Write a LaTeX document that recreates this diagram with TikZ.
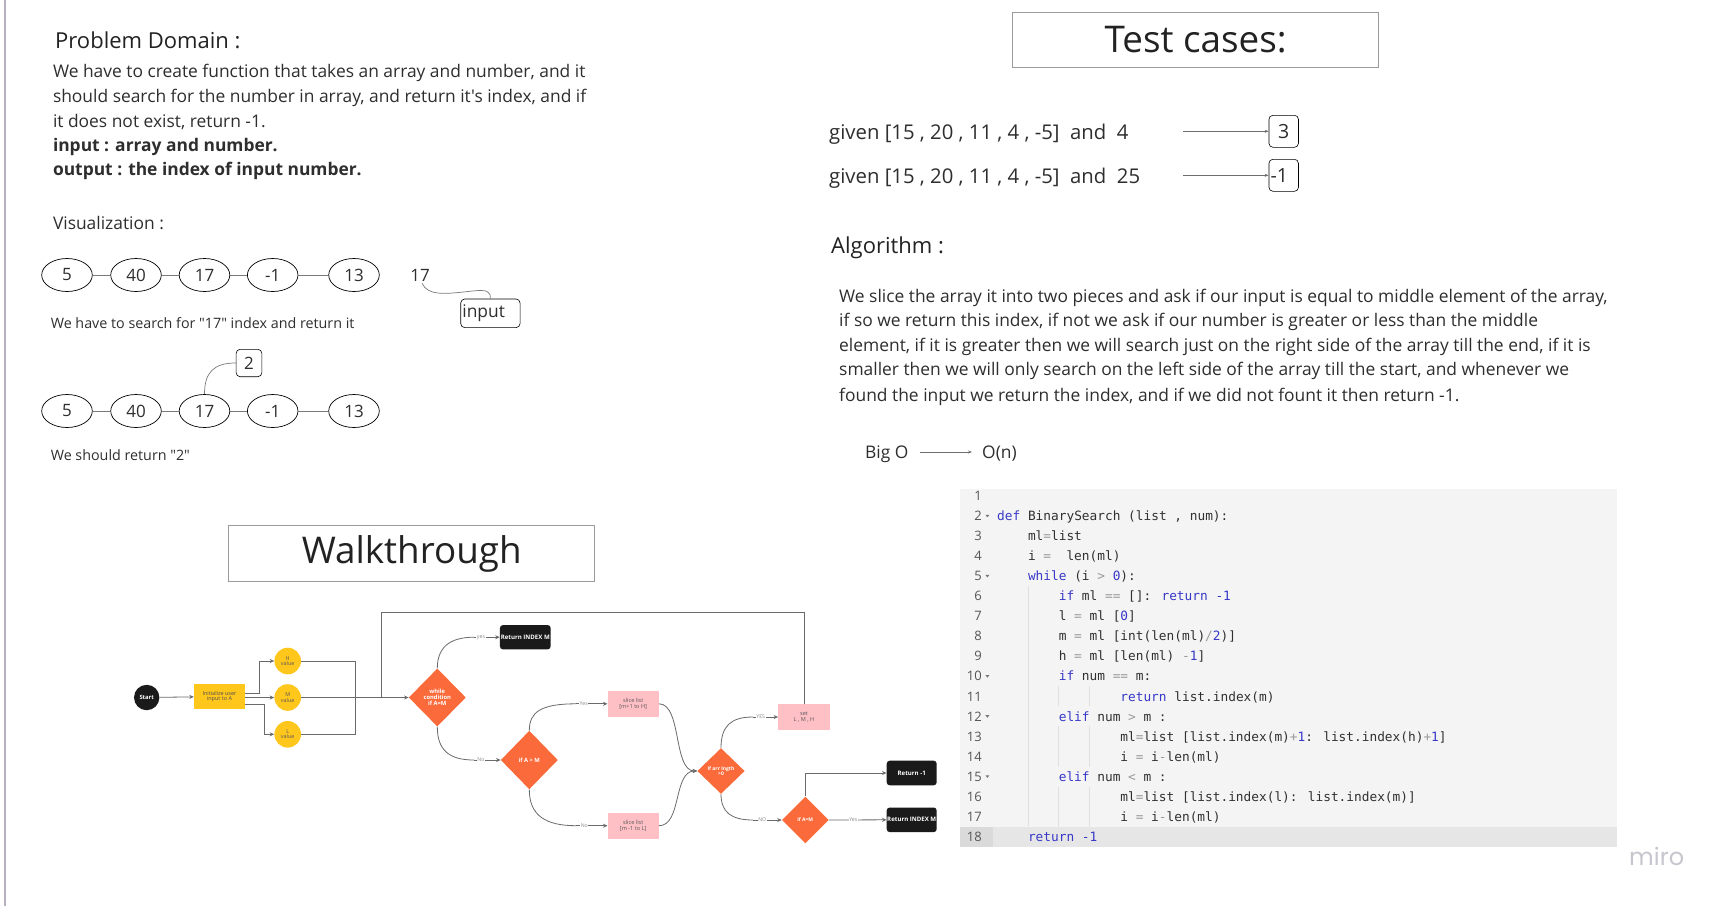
\documentclass[tikz,border=0pt]{standalone}
\usepackage{fontspec}
\setmainfont{Open Sans}[Ligatures=TeXOff]
\newfontfamily\codefont{DejaVu Sans Mono}
\newfontfamily\mirofont{Poppins}
\usetikzlibrary{shapes.geometric,arrows.meta}

\definecolor{ink}{HTML}{2E2E2E}
\definecolor{headink}{HTML}{222222}
\definecolor{vgray}{HTML}{7A7A7A}
\definecolor{boxgray}{HTML}{9A9A9A}
\definecolor{agray}{HTML}{6E6E6E}
\definecolor{fgray}{HTML}{6A6A6A}
\definecolor{lgray}{HTML}{8A8A8A}
\definecolor{orng}{HTML}{FB6A3A}
\definecolor{yel}{HTML}{FFC61C}
\definecolor{pinkbox}{HTML}{FFC0C5}
\definecolor{blk}{HTML}{1A1A1A}
\definecolor{codebg}{HTML}{F4F4F4}
\definecolor{rowhl}{HTML}{E6E6E6}
\definecolor{gutterhl}{HTML}{DADADA}
\definecolor{guide}{HTML}{E0E0E0}
\definecolor{codeink}{HTML}{303030}
\definecolor{kwblue}{HTML}{3838C8}
\definecolor{opgray}{HTML}{9A9A9A}
\definecolor{lnink}{HTML}{555555}
\definecolor{mirogray}{HTML}{C6C6CE}
\definecolor{edge}{HTML}{B8B0C0}

\newcommand\fsz[1]{\fontsize{#1}{#1}\selectfont}
\newcommand\kw[1]{\textcolor{kwblue}{#1}}
\newcommand\nm[1]{\textcolor{kwblue}{#1}}
\newcommand\op[1]{\textcolor{opgray}{#1}}

\begin{document}
\begin{tikzpicture}[x=1pt,y=-1pt,
  txt/.style={inner sep=0pt, anchor=base west, text=ink},
  body/.style={txt, font=\fsz{17.4}},
  oval/.style={ellipse, draw=black, line width=0.7pt, minimum width=50.6pt, minimum height=33pt, inner sep=0pt, font=\fsz{17}, text=ink},
  vizline/.style={draw=vgray, line width=1pt},
  rbox/.style={draw=black, line width=0.6pt, rounded corners=4pt, inner sep=1pt, text=ink},
  titlebox/.style={draw=boxgray, line width=1pt, inner sep=0pt, font=\fsz{36.8}, text=headink},
  thinarrow/.style={draw=agray, line width=0.6pt, -{Stealth[length=4pt,width=3pt]}},
  flow/.style={draw=fgray, line width=0.8pt, -{Stealth[length=4.5pt,width=4pt]}},
  flowline/.style={draw=fgray, line width=0.8pt},
  lbl/.style={fill=white, inner sep=0.6pt, font=\fsz{5.2}, text=lgray},
  decision/.style={diamond, fill=orng, inner sep=0pt, text=white, align=center, font=\bfseries\fsz{5.8}},
  valcircle/.style={circle, fill=yel, inner sep=0pt, minimum size=26.6pt, align=center, font=\fsz{5.4}, text=ink!80},
  pinkrect/.style={rectangle, fill=pinkbox, inner sep=0pt, minimum width=51pt, minimum height=25.7pt, align=center, font=\fsz{5.6}, text=ink!80},
  blackrect/.style={rectangle, rounded corners=3pt, fill=blk, inner sep=0pt, minimum width=50pt, minimum height=24.6pt, align=center, font=\bfseries\fsz{6.1}, text=white},
  code/.style={inner sep=0pt, anchor=base west, font=\codefont\fsz{12.8}, text=codeink},
  lnum/.style={inner sep=0pt, anchor=base east, font=\fsz{13}, text=lnink}
]
\useasboundingbox (0,0) rectangle (1724,906);
\fill[white] (0,0) rectangle (1724,906);
\draw[edge, line width=2pt] (5,0) -- (5,906);

% ---------- problem domain ----------
\node[txt, font=\fsz{22}, text=headink] (pdh) at (55,48) {Problem Domain :};
\node[body] (pd1) at (52.8,77) {We have to create function that takes an array and number, and it};
\node[body] (pd2) at (52.8,102.3) {should search for the number in array, and return it's index, and if};
\node[body] (pd3) at (52.8,127.6) {it does not exist, return -1.};
\node[body, font=\bfseries\fsz{17.4}] (pd4) at (52.8,151.6) {input : array and number.};
\node[body, font=\bfseries\fsz{17.4}] (pd5) at (52.8,175.9) {output : the index of input number.};

% ---------- visualization ----------
\node[body] (vish) at (52.8,229.5) {Visualization :};
\node[oval] (v11) at (67,275) {5};
\node[oval] (v12) at (136,275) {40};
\node[oval] (v13) at (204.5,275) {17};
\node[oval] (v14) at (272.7,275) {-1};
\node[oval] (v15) at (354,275) {13};
\draw[vizline] (v11) -- (v12);
\draw[vizline] (v12) -- (v13);
\draw[vizline] (v13) -- (v14);
\draw[vizline] (v14) -- (v15);

\node[inner sep=0pt, font=\fsz{17}, text=ink] (in17) at (420,275) {17};
\node[rbox, minimum width=59.3pt, minimum height=28.6pt, text width=56pt, align=left, font=\fsz{17.4}] (inp) at (490.4,313.3) {input};
\draw[vizline, line width=0.7pt] ([xshift=2pt,yshift=-2pt]in17.south) .. controls (428,296) and (445,294) .. (468,291.5) .. controls (488,289) and (490.4,291) .. (inp.north);

\node[txt, font=\fsz{14.3}] (cap1) at (50.6,328.5) {We have to search for "17" index and return it};

\node[rbox, minimum width=25.7pt, minimum height=27.4pt, font=\fsz{17}] (b2) at (249,363) {2};
\node[oval] (v21) at (67,411) {5};
\node[oval] (v22) at (136,411) {40};
\node[oval] (v23) at (204.5,411) {17};
\node[oval] (v24) at (272.7,411) {-1};
\node[oval] (v25) at (354,411) {13};
\draw[vizline] (v21) -- (v22);
\draw[vizline] (v22) -- (v23);
\draw[vizline] (v23) -- (v24);
\draw[vizline] (v24) -- (v25);
\draw[vizline, line width=0.7pt] (v23.north) .. controls (204.5,372) and (214,363) .. (b2.west);

\node[txt, font=\fsz{14.3}] (cap2) at (50.6,460.5) {We should return "2"};

% ---------- walkthrough ----------
\node[titlebox, minimum width=366pt, minimum height=56pt] (walk) at (411.7,553.6) {Walkthrough};

\node[circle, fill=blk, minimum size=25.4pt, inner sep=0pt, font=\bfseries\fsz{5.8}, text=white] (start) at (146.7,697.5) {Start};
\node[rectangle, fill=yel, minimum width=51pt, minimum height=25.7pt, inner sep=0pt, align=center, font=\fsz{5.5}, text=ink!85] (init) at (219.5,696.5) {Initialize user\\input to A};
\node[valcircle] (hv) at (287.7,661) {H\\value};
\node[valcircle] (mv) at (287.7,697.5) {M\\value};
\node[valcircle] (lv) at (287.7,734.3) {L\\value};
\node[decision, minimum width=57pt, minimum height=58pt] (w1) at (437.3,697.5) {while\\condition\\if A=M};
\node[blackrect, minimum width=50.7pt, minimum height=24.3pt] (rim1) at (525.3,637.2) {Return INDEX M};
\node[decision, minimum width=57pt, minimum height=58.6pt] (am) at (529.3,760) {if A \textgreater{} M};
\node[pinkrect] (sl1) at (633.2,703.8) {slice list\\{[m+1 to H]}};
\node[pinkrect] (sl2) at (633.2,825.7) {slice list\\{[m -1 to L]}};
\node[decision, minimum width=47.3pt, minimum height=45.7pt, font=\bfseries\fsz{5}] (d3) at (721,771) {If arr lngth\\\textgreater0};
\node[pinkrect, minimum width=51.4pt, minimum height=25.4pt] (st) at (804,717) {set\\L , M , H};
\node[decision, minimum width=46.7pt, minimum height=46.7pt, font=\bfseries\fsz{5}] (d4) at (805.3,820) {if A=M};
\node[blackrect] (ret1) at (911.7,773) {Return -1};
\node[blackrect] (ret2) at (911.7,819.8) {Return INDEX M};

\coordinate (join) at (355,697.5);
\coordinate (merge) at (381.7,697.5);
\coordinate (looptop) at (381.7,612);

\draw[flow] (start) -- (init);
\draw[flow] ([yshift=3.5pt]init.east) -- ++(14.3,0) |- (hv.west);
\draw[flow] ([yshift=-1pt]init.east) -- (mv.west);
\draw[flow] ([yshift=-7.5pt]init.east) -- ++(19,0) |- (lv.west);
\draw[flowline] (hv.east) -| (join);
\draw[flowline] (mv.east) -- (join);
\draw[flowline] (lv.east) -| (join);
\draw[flow, line width=1.4pt] (join) -- (w1.west);
\draw[flowline] (st.north) |- (looptop) -- (merge);

\coordinate (yb1) at (474,637.2);
\draw[flowline] (w1.north) .. controls (437.3,648) and (449,637.2) .. (yb1);
\draw[flow] (yb1) -- (rim1.west);
\node[lbl] (lyes1) at (481,637.2) {yes};

\coordinate (nb1) at (474,760);
\draw[flowline] (w1.south) .. controls (437.3,750) and (449,760) .. (nb1);
\draw[flow] (nb1) -- (am.west);
\node[lbl] (lno1) at (481,760) {No};

\coordinate (yb2) at (576,703.8);
\draw[flowline] (am.north) .. controls (529.3,712) and (541,703.8) .. (yb2);
\draw[flow] (yb2) -- (sl1.west);
\node[lbl] (lyes2) at (583.7,703.8) {Yes};

\coordinate (nb2) at (576,825.7);
\draw[flowline] (am.south) .. controls (529.3,815) and (545,825.7) .. (nb2);
\draw[flow] (nb2) -- (sl2.west);
\node[lbl] (lno2) at (584.3,825.7) {No};

\draw[flow] (sl1.east) .. controls (682,703.8) and (673,771) .. (d3.west);
\draw[flow] (sl2.east) .. controls (682,825.7) and (673,771) .. (d3.west);

\coordinate (yb3) at (753,717);
\draw[flowline] (d3.north) .. controls (721,726) and (731,717) .. (yb3);
\draw[flow] (yb3) -- (st.west);
\node[lbl] (lyes3) at (760.7,717) {YES};

\coordinate (nb3) at (753,820);
\draw[flowline] (d3.south) .. controls (721,812) and (731,820) .. (nb3);
\draw[flow] (nb3) -- (d4.west);
\node[lbl] (lno3) at (762.3,820) {NO};

\draw[flow] (d4.north) |- (ret1.west);
\draw[flow] (d4.east) -- (ret2.west);
\node[lbl] (lyes4) at (853.3,820) {Yes};

% ---------- test cases ----------
\node[titlebox, minimum width=366.2pt, minimum height=55pt] (tch) at (1195.7,39.5) {Test cases:};
\node[txt, font=\fsz{20.3}] (tc1) at (829,139) {given [15 , 20 , 11 , 4 , -5]\ \ and\ \ 4};
\node[txt, font=\fsz{20.3}] (tc2) at (829,183) {given [15 , 20 , 11 , 4 , -5]\ \ and\ \ 25};
\node[rbox, minimum width=29.5pt, minimum height=32pt, font=\fsz{19.5}] (b3) at (1283.7,131.3) {3};
\node[rbox, minimum width=29.5pt, minimum height=32pt, text width=26pt, align=left, font=\fsz{19.5}] (bm1) at (1283.7,175.3) {-1};
\coordinate (t1s) at (1183,131.3);
\coordinate (t2s) at (1183,175.3);
\draw[thinarrow] (t1s) -- (b3.west);
\draw[thinarrow] (t2s) -- (bm1.west);

% ---------- algorithm ----------
\node[txt, font=\fsz{22}, text=headink] (algh) at (831,253) {Algorithm :};
\node[body] (al1) at (839,302.3) {We slice the array it into two pieces and ask if our input is equal to middle element of the array,};
\node[body] (al2) at (839,326.5) {if so we return this index, if not we ask if our number is greater or less than the middle};
\node[body] (al3) at (839,351.4) {element, if it is greater then we will search just on the right side of the array till the end, if it is};
\node[body] (al4) at (839,375.8) {smaller then we will only search on the left side of the array till the start, and whenever we};
\node[body] (al5) at (839,401.1) {found the input we return the index, and if we did not fount it then return -1.};

\node[body] (bigo) at (865,458) {Big O};
\node[body] (on) at (982,458) {O(n)};
\coordinate (bos) at (920,452);
\coordinate (boe) at (972,452);
\draw[thinarrow] (bos) -- (boe);

% ---------- code panel ----------
\fill[codebg] (960,489) rectangle (1617.4,846.6);
\fill[rowhl] (960,826.6) rectangle (1617.4,846.6);
\fill[gutterhl] (960,826.6) rectangle (993,846.6);
% indentation guides
\draw[guide, line width=0.6pt] (1027.8,586) -- (1027.8,826);
\foreach \a/\b in {11/11,13/14,16/17}{
  \draw[guide, line width=0.6pt] (1058.6,{496+(\a-1)*20.04-10}) -- (1058.6,{496+(\b-1)*20.04+10});
  \draw[guide, line width=0.6pt] (1089.4,{496+(\a-1)*20.04-10}) -- (1089.4,{496+(\b-1)*20.04+10});
}
\foreach \i in {1,...,18}{
  \node[lnum] (ln\i) at (982,{496+(\i-1)*20.04+4.6}) {\i};
}
\foreach \i in {2,5,10,12,15}{
  \fill[lnink!80] (985.4,{496+(\i-1)*20.04-1.3}) -- ++(4,0) -- ++(-2,2.6) -- cycle;
}
\node[code] (c2) at (997,{496+1*20.04+4.6}) {\kw{def} BinarySearch (list , num):};
\node[code] (c3) at (1027.8,{496+2*20.04+4.6}) {ml\op{=}list};
\node[code] (c4) at (1027.8,{496+3*20.04+4.6}) {i \op{=}\ \ len(ml)};
\node[code] (c5) at (1027.8,{496+4*20.04+4.6}) {\kw{while} (i \op{>} \nm{0}):};
\node[code] (c6) at (1058.6,{496+5*20.04+4.6}) {\kw{if} ml \op{==} []: \kw{return} \nm{-1}};
\node[code] (c7) at (1058.6,{496+6*20.04+4.6}) {l \op{=} ml [\nm{0}]};
\node[code] (c8) at (1058.6,{496+7*20.04+4.6}) {m \op{=} ml [int(len(ml)\op{/}\nm{2})]};
\node[code] (c9) at (1058.6,{496+8*20.04+4.6}) {h \op{=} ml [len(ml) \op{-}\nm{1}]};
\node[code] (c10) at (1058.6,{496+9*20.04+4.6}) {\kw{if} num \op{==} m:};
\node[code] (c11) at (1120.2,{496+10*20.04+4.6}) {\kw{return} list.index(m)};
\node[code] (c12) at (1058.6,{496+11*20.04+4.6}) {\kw{elif} num \op{>} m :};
\node[code] (c13) at (1120.2,{496+12*20.04+4.6}) {ml\op{=}list [list.index(m)\op{+}\nm{1}: list.index(h)\op{+}\nm{1}]};
\node[code] (c14) at (1120.2,{496+13*20.04+4.6}) {i \op{=} i\op{-}len(ml)};
\node[code] (c15) at (1058.6,{496+14*20.04+4.6}) {\kw{elif} num \op{<} m :};
\node[code] (c16) at (1120.2,{496+15*20.04+4.6}) {ml\op{=}list [list.index(l): list.index(m)]};
\node[code] (c17) at (1120.2,{496+16*20.04+4.6}) {i \op{=} i\op{-}len(ml)};
\node[code] (c18) at (1027.8,{496+17*20.04+4.6}) {\kw{return} \nm{-1}};

% ---------- watermark ----------
\node[inner sep=0pt, anchor=west, font=\mirofont\fsz{24}, text=mirogray] (miro) at (1629,856.5) {miro};
\end{tikzpicture}
\end{document}
